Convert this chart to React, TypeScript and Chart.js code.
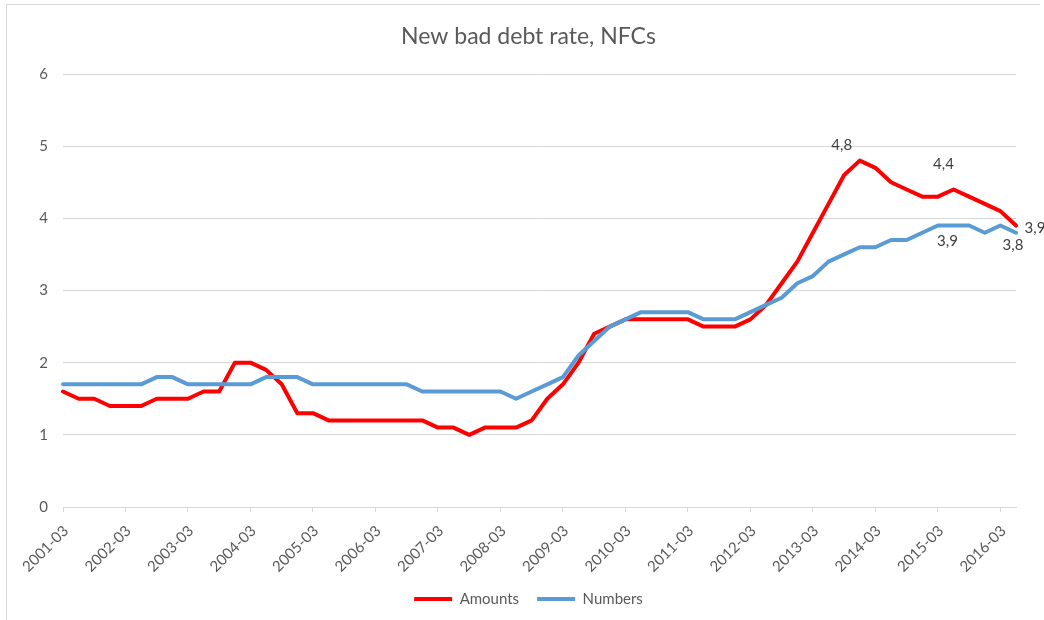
import React, { useEffect, useRef } from "react";
import { Chart, registerables } from "chart.js";

Chart.register(...registerables);

const categories = [
  "2001-03", "2001-06", "2001-09", "2001-12",
  "2002-03", "2002-06", "2002-09", "2002-12",
  "2003-03", "2003-06", "2003-09", "2003-12",
  "2004-03", "2004-06", "2004-09", "2004-12",
  "2005-03", "2005-06", "2005-09", "2005-12",
  "2006-03", "2006-06", "2006-09", "2006-12",
  "2007-03", "2007-06", "2007-09", "2007-12",
  "2008-03", "2008-06", "2008-09", "2008-12",
  "2009-03", "2009-06", "2009-09", "2009-12",
  "2010-03", "2010-06", "2010-09", "2010-12",
  "2011-03", "2011-06", "2011-09", "2011-12",
  "2012-03", "2012-06", "2012-09", "2012-12",
  "2013-03", "2013-06", "2013-09", "2013-12",
  "2014-03", "2014-06", "2014-09", "2014-12",
  "2015-03", "2015-06", "2015-09", "2015-12",
  "2016-03", "2016-06",
];

const shownTickLabels = [
  "2001-03", "2002-03", "2003-03", "2004-03", "2005-03", "2006-03",
  "2007-03", "2008-03", "2009-03", "2010-03", "2011-03", "2012-03",
  "2013-03", "2014-03", "2015-03", "2016-03",
];

const amounts = [
  1.6, 1.5, 1.5, 1.4,
  1.4, 1.4, 1.5, 1.5,
  1.5, 1.6, 1.6, 2.0,
  2.0, 1.9, 1.7, 1.3,
  1.3, 1.2, 1.2, 1.2,
  1.2, 1.2, 1.2, 1.2,
  1.1, 1.1, 1.0, 1.1,
  1.1, 1.1, 1.2, 1.5,
  1.7, 2.0, 2.4, 2.5,
  2.6, 2.6, 2.6, 2.6,
  2.6, 2.5, 2.5, 2.5,
  2.6, 2.8, 3.1, 3.4,
  3.8, 4.2, 4.6, 4.8,
  4.7, 4.5, 4.4, 4.3,
  4.3, 4.4, 4.3, 4.2,
  4.1, 3.9,
];

const numbers = [
  1.7, 1.7, 1.7, 1.7,
  1.7, 1.7, 1.8, 1.8,
  1.7, 1.7, 1.7, 1.7,
  1.7, 1.8, 1.8, 1.8,
  1.7, 1.7, 1.7, 1.7,
  1.7, 1.7, 1.7, 1.6,
  1.6, 1.6, 1.6, 1.6,
  1.6, 1.5, 1.6, 1.7,
  1.8, 2.1, 2.3, 2.5,
  2.6, 2.7, 2.7, 2.7,
  2.7, 2.6, 2.6, 2.6,
  2.7, 2.8, 2.9, 3.1,
  3.2, 3.4, 3.5, 3.6,
  3.6, 3.7, 3.7, 3.8,
  3.9, 3.9, 3.9, 3.8,
  3.9, 3.8,
];

const seriesNames = ["Amounts", "Numbers"];
const yTicks = [0, 1, 2, 3, 4, 5, 6];

// which points carry a value label: [series index, category]
const labelledPoints: [number, string][] = [
  [0, "2013-12"],
  [0, "2015-06"],
  [0, "2016-06"],
  [1, "2015-06"],
  [1, "2016-06"],
];
// visual offsets (px) of each value label from its point
const labelOffsets: [number, number][] = [
  [-18, -15],
  [-10, -25],
  [19, 3],
  [-6, 16],
  [-3, 12],
];

const FONT = "Lato";
const TEXT = "#595959";
const GRID = "#d9d9d9";

const valueLabelPlugin = {
  id: "valueLabels",
  afterDatasetsDraw(chart: any) {
    const ctx = chart.ctx;
    ctx.save();
    ctx.font = `15px ${FONT}`;
    ctx.fillStyle = "#404040";
    ctx.textAlign = "center";
    ctx.textBaseline = "middle";
    labelledPoints.forEach(([ds, cat], k) => {
      const idx = categories.indexOf(cat);
      const meta = chart.getDatasetMeta(ds);
      const pt = meta.data[idx];
      if (!pt) return;
      const v = chart.data.datasets[ds].data[idx] as number;
      const text = v.toFixed(1).replace(".", ",");
      const [dx, dy] = labelOffsets[k];
      ctx.fillText(text, pt.x + dx, pt.y + dy);
    });
    ctx.restore();
  },
};

const framePlugin = {
  id: "frame",
  beforeDraw(chart: any) {
    const ctx = chart.ctx;
    ctx.save();
    ctx.fillStyle = "#ffffff";
    ctx.fillRect(0, 0, chart.width, chart.height);
    ctx.strokeStyle = GRID;
    ctx.lineWidth = 1;
    ctx.beginPath();
    ctx.moveTo(6.5, chart.height);
    ctx.lineTo(6.5, 4.5);
    ctx.lineTo(1040, 4.5);
    ctx.stroke();
    ctx.restore();
  },
};

export default function App() {
  const ref = useRef<HTMLCanvasElement | null>(null);

  useEffect(() => {
    if (!ref.current) return;
    const chart = new Chart(ref.current, {
      type: "line",
      data: {
        labels: categories,
        datasets: [
          {
            label: seriesNames[0],
            data: amounts,
            borderColor: "#ff0000",
            backgroundColor: "#ff0000",
            borderWidth: 4,
            pointRadius: 0,
            pointHoverRadius: 0,
            tension: 0,
            fill: false,
            borderJoinStyle: "round",
            borderCapStyle: "round",
            order: 1,
          },
          {
            label: seriesNames[1],
            data: numbers,
            borderColor: "#5b9bd5",
            backgroundColor: "#5b9bd5",
            borderWidth: 4,
            pointRadius: 0,
            pointHoverRadius: 0,
            tension: 0,
            fill: false,
            borderJoinStyle: "round",
            borderCapStyle: "round",
            order: 0,
          },
        ],
      },
      options: {
        responsive: false,
        animation: false,
        devicePixelRatio: 1,
        events: [],
        layout: { padding: { left: 13, right: 0, top: 0, bottom: 3.5 } },
        scales: {
          x: {
            type: "category",
            offset: false,
            grid: {
              display: true,
              drawOnChartArea: false,
              drawTicks: true,
              tickLength: 5,
              color: (c: any) =>
                shownTickLabels.includes(categories[c.index]) ? GRID : "rgba(0,0,0,0)",
            },
            border: { display: true, color: GRID, width: 1 },
            ticks: {
              autoSkip: false,
              maxRotation: 45,
              minRotation: 45,
              padding: 10,
              labelOffset: 3,
              color: TEXT,
              font: { family: FONT, size: 15 },
              callback: (_v: any, i: number) =>
                shownTickLabels.includes(categories[i]) ? categories[i] : "",
            },
            afterFit: (s: any) => {
              s.height = 66.5;
            },
          },
          y: {
            position: "left",
            min: yTicks[0],
            max: yTicks[yTicks.length - 1],
            afterBuildTicks: (s: any) => {
              s.ticks = yTicks.map((v) => ({ value: v }));
            },
            grid: { color: GRID, drawTicks: false, lineWidth: 1 },
            border: { display: false },
            ticks: {
              padding: 15,
              color: TEXT,
              font: { family: FONT, size: 15 },
            },
            afterFit: (s: any) => {
              s.width = 50;
            },
          },
          ySpacer: {
            position: "right",
            display: true,
            grid: { display: false, drawTicks: false },
            border: { display: false },
            ticks: { display: false },
            afterFit: (s: any) => {
              s.width = 28;
            },
          },
        },
        plugins: {
          title: {
            display: true,
            text: "New bad debt rate, NFCs",
            color: TEXT,
            font: { family: FONT, size: 23, weight: "normal" },
            padding: { top: 22.7, bottom: 23.7 },
          },
          legend: {
            display: true,
            position: "bottom",
            labels: {
              color: TEXT,
              font: { family: FONT, size: 15 },
              boxWidth: 38,
              boxHeight: 4,
              padding: 18,
              sort: (a: any, b: any) => a.datasetIndex - b.datasetIndex,
              generateLabels: (ch: any) =>
                Chart.defaults.plugins.legend.labels
                  .generateLabels(ch)
                  .map((l: any) => ({ ...l, lineWidth: 0 })),
            },
          },
          tooltip: { enabled: false },
        },
      },
      plugins: [framePlugin, valueLabelPlugin],
    } as any);
    return () => chart.destroy();
  }, []);

  return (
    <div
      style={{
        position: "absolute",
        left: 0,
        top: 0,
        width: 1044,
        height: 620,
        overflow: "hidden",
        background: "#fff",
      }}
    >
      <canvas ref={ref} width={1044} height={620} style={{ display: "block" }} />
    </div>
  );
}
